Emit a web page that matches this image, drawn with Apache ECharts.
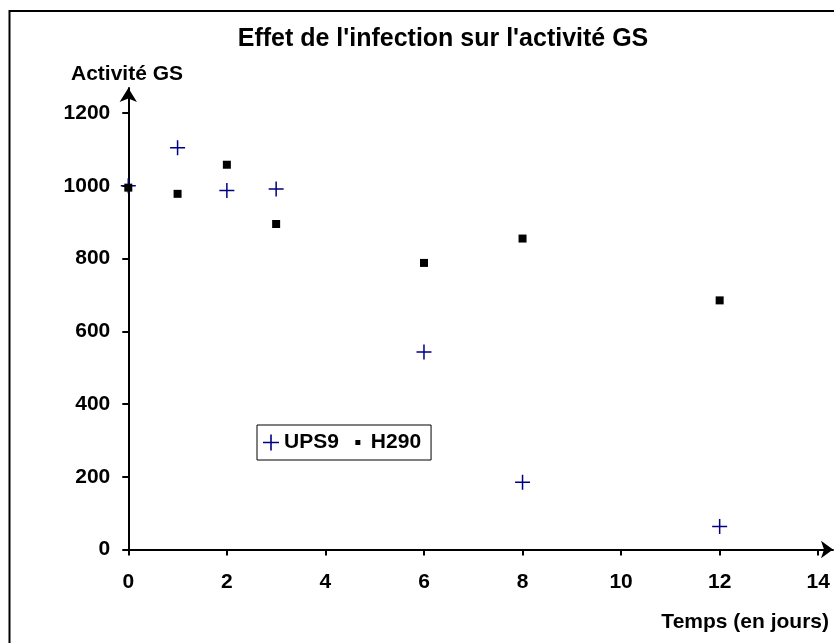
<!DOCTYPE html>
<html>
<head>
<meta charset="utf-8">
<script src="https://cdn.jsdelivr.net/npm/echarts@6/dist/echarts.min.js"></script>
<style>
  html, body { margin: 0; padding: 0; background: #fff; }
  #chart { width: 834px; height: 643px; }
</style>
</head>
<body>
<div id="chart"></div>
<script>
// Days after infection and measured GS activity for the two lines
const days = [0, 1, 2, 3, 6, 8, 12];
const ups9 = [1000, 1105, 987, 991, 543, 185, 63];
const h290 = [995, 978, 1058, 895, 788, 855, 685];

const xTicks = [0, 2, 4, 6, 8, 10, 12, 14];
const yTicks = [0, 200, 400, 600, 800, 1000, 1200];

const FONT = 'Liberation Sans, Arial, sans-serif';
const PLUS = 'path://M4.5,0h1v4.5h4.5v1h-4.5v4.5h-1v-4.5h-4.5v-1h4.5z';
const SQUARE_ICON = 'path://M0,0L0,0Z M5.5,5.5h5v5h-5z M16,16L16,16Z';

const chart = echarts.init(document.getElementById('chart'), null, { renderer: 'canvas' });

const axisText = { color: '#000', fontFamily: FONT, fontWeight: 'bold', fontSize: 21, formatter: v => String(v) };

chart.setOption({
  backgroundColor: '#fff',
  animation: false,
  title: {
    text: "Effet de l'infection sur l'activité GS",
    left: 438, top: 22, textAlign: 'center',
    textStyle: { color: '#000', fontFamily: FONT, fontWeight: 'bold', fontSize: 25 }
  },
  grid: { left: 128.3, right: 1, top: 88, bottom: 93.5, containLabel: false },
  xAxis: {
    type: 'value', min: 0, max: 14.3,
    splitLine: { show: false },
    axisLine: { lineStyle: { color: '#000', width: 2 }, symbol: ['none', 'arrow'], symbolSize: [13, 12] },
    axisTick: { show: true, length: 6, lineStyle: { color: '#000', width: 2 }, customValues: xTicks },
    axisLabel: Object.assign({ margin: 22, customValues: xTicks }, axisText)
  },
  yAxis: {
    type: 'value', min: 0, max: 1269,
    splitLine: { show: false },
    axisLine: { lineStyle: { color: '#000', width: 2 }, symbol: ['none', 'arrow'], symbolSize: [13, 14] },
    axisTick: { show: true, length: 6, lineStyle: { color: '#000', width: 2 }, customValues: yTicks },
    axisLabel: Object.assign({ margin: 18, customValues: yTicks }, axisText)
  },
  legend: {
    left: 257, top: 425,
    orient: 'horizontal',
    borderColor: '#000', borderWidth: 1,
    padding: [7, 10, 7, 6],
    itemGap: 11, itemWidth: 16, itemHeight: 16,
    textStyle: { color: '#000', fontFamily: FONT, fontWeight: 'bold', fontSize: 21, padding: [0, 0, 0, 0] },
    data: [
      { name: 'UPS9', icon: PLUS },
      { name: 'H290', icon: SQUARE_ICON }
    ]
  },
  graphic: [
    {
      type: 'rect', silent: true,
      shape: { x: 9.5, y: 11, width: 900, height: 700 },
      style: { fill: 'none', stroke: '#000', lineWidth: 2 }
    },
    {
      type: 'text', left: 71, top: 64,
      style: { text: 'Activité GS', fill: '#000', font: 'bold 21px ' + FONT }
    },
    {
      type: 'text', right: 5, top: 612,
      style: { text: 'Temps (en jours)', fill: '#000', font: 'bold 21px ' + FONT }
    }
  ],
  series: [
    {
      name: 'UPS9', type: 'scatter',
      symbol: PLUS, symbolSize: 15,
      itemStyle: { color: '#000080', opacity: 1 },
      data: days.map((d, i) => [d, ups9[i]])
    },
    {
      name: 'H290', type: 'scatter',
      symbol: 'rect', symbolSize: 8,
      itemStyle: { color: '#000', opacity: 1 },
      data: days.map((d, i) => [d, h290[i]])
    }
  ]
});
</script>
</body>
</html>
